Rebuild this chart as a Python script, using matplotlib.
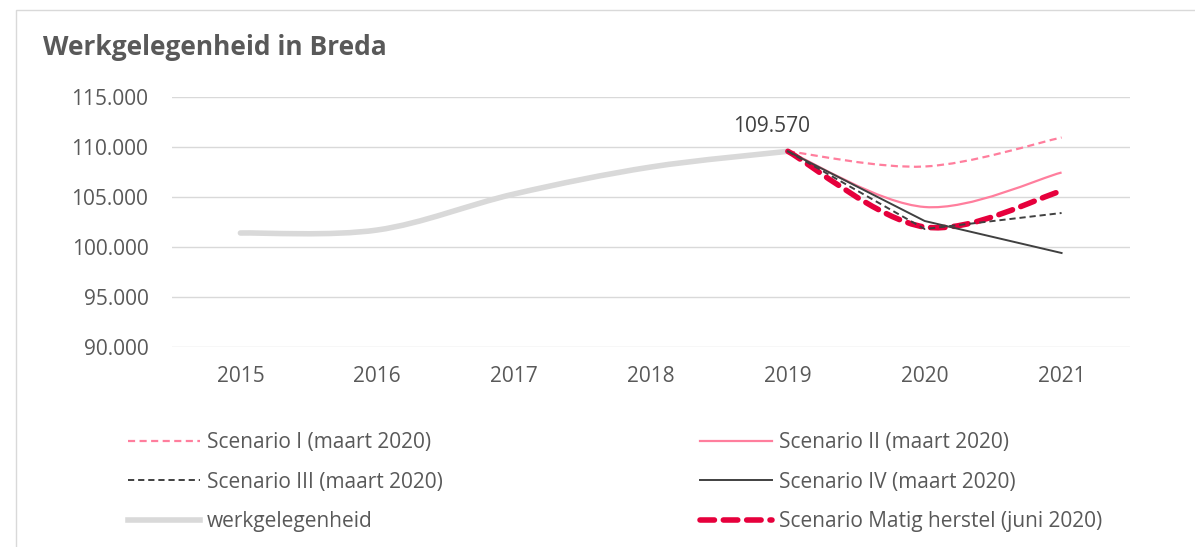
import numpy as np
import matplotlib.pyplot as plt
from matplotlib.path import Path
from matplotlib.patches import PathPatch, Rectangle
from matplotlib.lines import Line2D

# data
years = ["2015", "2016", "2017", "2018", "2019", "2020", "2021"]
werkgelegenheid = [101400, 101700, 105300, 108000, 109570]
scen_1 = [109570, 108050, 110950]
scen_2 = [109570, 104000, 107450]
scen_3 = [109570, 101800, 103400]
scen_4 = [109570, 102600, 99400]
matig = [109570, 102000, 105600]

TXT = "#595959"
PINK = "#FF7E9D"
DARK = "#404040"
GREY = "#D9D9D9"
RED = "#E6003C"
FS = 15


def smooth_path(xs, ys):
    # Excel style smoothed line: bezier segments through the points
    pts = np.column_stack([xs, ys]).astype(float)
    n = len(pts)
    verts = [pts[0]]
    codes = [Path.MOVETO]
    for i in range(n - 1):
        p_prev = pts[i - 1] if i > 0 else pts[i]
        p_next2 = pts[i + 2] if i + 2 < n else pts[i + 1]
        c1 = pts[i] + (pts[i + 1] - p_prev) / 6
        c2 = pts[i + 1] - (p_next2 - pts[i]) / 6
        verts += [c1, c2, pts[i + 1]]
        codes += [Path.CURVE4] * 3
    return Path(verts, codes)


fig = plt.figure(figsize=(11.95, 5.47), dpi=100)
fig.patches.append(Rectangle((16 / 1195, -0.1), 1.2, 1 - 10 / 547 + 0.1,
                             transform=fig.transFigure, fill=False,
                             edgecolor=GREY, linewidth=1))

ax = fig.add_axes([172 / 1195, 1 - 347 / 547, (1130 - 172) / 1195, 250 / 547])
ax.set_xlim(-0.5, 6.5)
ax.set_ylim(90000, 115000)
ax.set_yticks(np.arange(90000, 115001, 5000))
ax.set_yticklabels([f"{v:,}".replace(",", ".") for v in range(90000, 115001, 5000)])
ax.set_xticks(range(len(years)))
ax.set_xticklabels(years)
ax.grid(axis="y", color=GREY, linewidth=1)
ax.set_axisbelow(True)
for s in ax.spines.values():
    s.set_visible(False)
ax.tick_params(length=0, labelcolor=TXT, labelsize=FS)
ax.tick_params(axis="y", pad=17)
ax.tick_params(axis="x", pad=14)
for lab in ax.get_xticklabels() + ax.get_yticklabels():
    lab.set_fontfamily("Open Sans")

x_hist = np.arange(len(werkgelegenheid))
x_sc = np.arange(4, 7)

ax.add_patch(PathPatch(smooth_path(x_hist, werkgelegenheid), fill=False,
                       edgecolor=GREY, linewidth=4, capstyle="round"))
ax.add_patch(PathPatch(smooth_path(x_sc, scen_1), fill=False, edgecolor=PINK,
                       linewidth=1.6, linestyle=(0, (3.2, 2))))
ax.add_patch(PathPatch(smooth_path(x_sc, scen_2), fill=False, edgecolor=PINK,
                       linewidth=1.6))
ax.plot(x_sc, scen_3, color=DARK, linewidth=1.4, linestyle=(0, (3.2, 2)))
ax.plot(x_sc, scen_4, color=DARK, linewidth=1.4)
ax.add_patch(PathPatch(smooth_path(x_sc, matig), fill=False, edgecolor=RED,
                       linewidth=4, linestyle=(0, (2.6, 1.6)),
                       capstyle="round"))

ax.annotate("109.570", (4, werkgelegenheid[-1]), xytext=(-12, 17.5),
            textcoords="offset points", ha="center", va="center",
            fontsize=FS, color=DARK, family="Open Sans")

fig.text(43 / 1195, 1 - 48 / 547, "Werkgelegenheid in Breda", fontsize=19,
         fontweight="bold", color=TXT, va="center", family="Open Sans")

h1 = Line2D([], [], color=PINK, linewidth=1.6, linestyle=(0, (3.2, 2)))
h2 = Line2D([], [], color=PINK, linewidth=1.6)
h3 = Line2D([], [], color=DARK, linewidth=1.4, linestyle=(0, (3.2, 2)))
h4 = Line2D([], [], color=DARK, linewidth=1.4)
h5 = Line2D([], [], color=GREY, linewidth=4)
h6 = Line2D([], [], color=RED, linewidth=4, linestyle=(0, (2.6, 1.6)),
            dash_capstyle="round")

leg_kw = dict(loc="upper left", frameon=False, handlelength=3.46,
              handletextpad=0.34, labelspacing=0.89, borderpad=0,
              borderaxespad=0, labelcolor=TXT,
              prop={"family": "Open Sans", "size": FS})
l1 = fig.legend([h1, h3, h5], ["Scenario I (maart 2020)", "Scenario III (maart 2020)",
                               "werkgelegenheid"],
                bbox_to_anchor=(128 / 1195, 1 - 432 / 547), **leg_kw)
l2 = fig.legend([h2, h4, h6], ["Scenario II (maart 2020)", "Scenario IV (maart 2020)",
                               "Scenario Matig herstel (juni 2020)"],
                bbox_to_anchor=(700 / 1195, 1 - 432 / 547), **leg_kw)

fig.savefig("out.png", dpi=100)
